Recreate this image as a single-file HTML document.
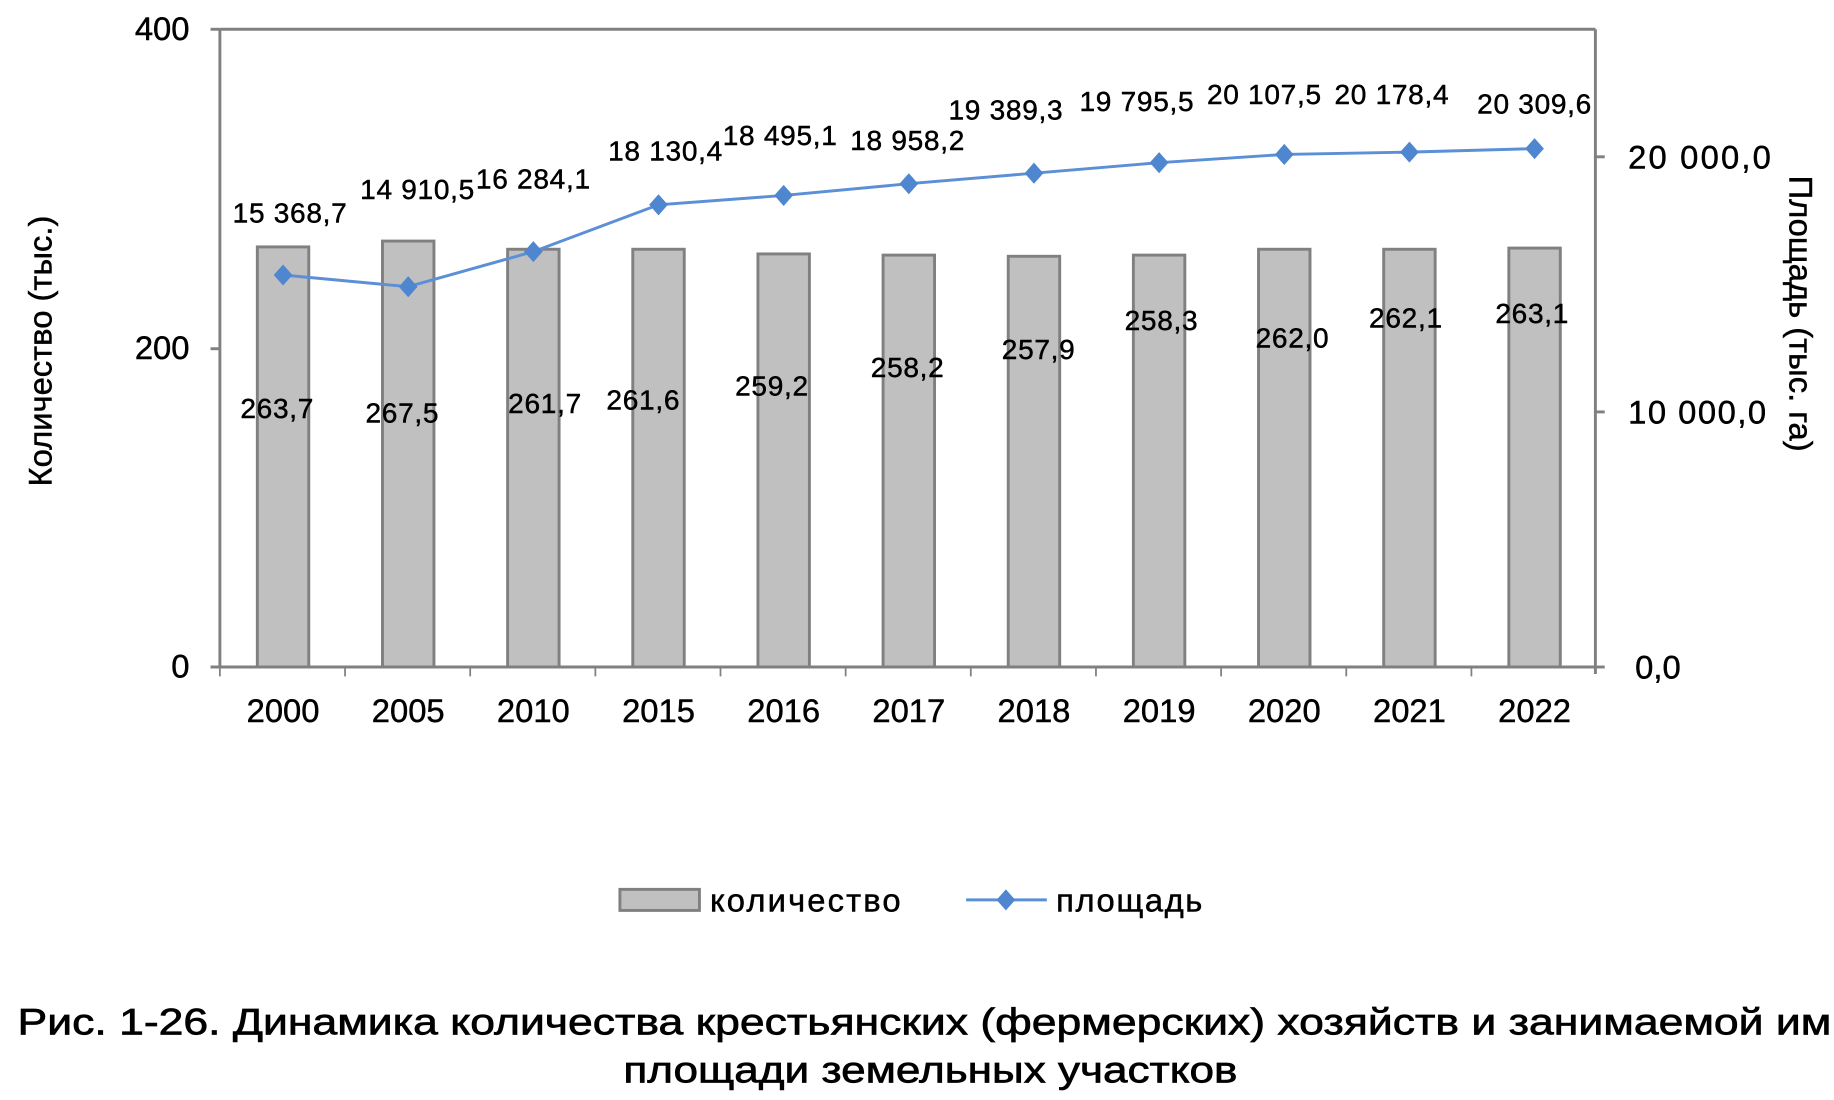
<!DOCTYPE html>
<html><head><meta charset="utf-8"><style>html,body{margin:0;padding:0;background:#fff}svg{display:block}</style></head>
<body>
<svg width="1834" height="1100" viewBox="0 0 1568 940" preserveAspectRatio="none" xmlns="http://www.w3.org/2000/svg" font-family="Liberation Sans, sans-serif">
<g fill="#c0c0c0" stroke="#808080" stroke-width="2.5">
<rect x="220" y="211" width="44" height="359"/>
<rect x="327" y="206" width="44" height="364"/>
<rect x="434" y="213" width="44" height="357"/>
<rect x="541" y="213" width="44" height="357"/>
<rect x="648" y="217" width="44" height="353"/>
<rect x="755" y="218" width="44" height="352"/>
<rect x="862" y="219" width="44" height="351"/>
<rect x="969" y="218" width="44" height="352"/>
<rect x="1076" y="213" width="44" height="357"/>
<rect x="1183" y="213" width="44" height="357"/>
<rect x="1290" y="212" width="44" height="358"/>
</g>
<g stroke="#808080" stroke-width="2.5" fill="none">
<line x1="188" y1="25" x2="1364" y2="25"/>
<line x1="188" y1="25" x2="188" y2="570"/>
<line x1="1364" y1="25" x2="1364" y2="576"/>
<line x1="180" y1="570" x2="1364" y2="570"/>
<line x1="180" y1="25" x2="188" y2="25"/>
<line x1="180" y1="298" x2="188" y2="298"/>
<line x1="1364" y1="134" x2="1372" y2="134"/>
<line x1="1364" y1="352" x2="1372" y2="352"/>
<line x1="1364" y1="570" x2="1372" y2="570"/>
<g stroke-width="1.5"><line x1="188" y1="570" x2="188" y2="578"/><line x1="295" y1="570" x2="295" y2="578"/><line x1="402" y1="570" x2="402" y2="578"/><line x1="509" y1="570" x2="509" y2="578"/><line x1="616" y1="570" x2="616" y2="578"/><line x1="723" y1="570" x2="723" y2="578"/><line x1="830" y1="570" x2="830" y2="578"/><line x1="937" y1="570" x2="937" y2="578"/><line x1="1044" y1="570" x2="1044" y2="578"/><line x1="1151" y1="570" x2="1151" y2="578"/><line x1="1258" y1="570" x2="1258" y2="578"/></g>
</g>
<polyline fill="none" stroke="#5b8fd6" stroke-width="2.5" points="242,235 349,245 456,215 563,175 670,167 777,157 884,148 991,139 1098,132 1205,130 1312,127"/>
<g fill="#4f86d0">
<path d="M242,226l8,9l-8,9l-8-9z"/><path d="M349,236l8,9l-8,9l-8-9z"/><path d="M456,206l8,9l-8,9l-8-9z"/><path d="M563,166l8,9l-8,9l-8-9z"/><path d="M670,158l8,9l-8,9l-8-9z"/><path d="M777,148l8,9l-8,9l-8-9z"/><path d="M884,139l8,9l-8,9l-8-9z"/><path d="M991,130l8,9l-8,9l-8-9z"/><path d="M1098,123l8,9l-8,9l-8-9z"/><path d="M1205,121l8,9l-8,9l-8-9z"/><path d="M1312,118l8,9l-8,9l-8-9z"/>
</g>
<g font-size="28" fill="#000" stroke="#000" stroke-width="0.4">
<text x="162" y="34" text-anchor="end">400</text>
<text x="162" y="307" text-anchor="end">200</text>
<text x="162" y="579" text-anchor="end">0</text>
<text x="1392" y="144" textLength="122">20 000,0</text>
<text x="1392" y="362" textLength="118">10 000,0</text>
<text x="1398" y="580">0,0</text>
<g text-anchor="middle"><text x="242" y="617">2000</text><text x="349" y="617">2005</text><text x="456" y="617">2010</text><text x="563" y="617">2015</text><text x="670" y="617">2016</text><text x="777" y="617">2017</text><text x="884" y="617">2018</text><text x="991" y="617">2019</text><text x="1098" y="617">2020</text><text x="1205" y="617">2021</text><text x="1312" y="617">2022</text></g>
<text transform="translate(44,300) rotate(-90)" text-anchor="middle">Количество (тыс.)</text>
<text transform="translate(1530,268) rotate(90)" text-anchor="middle">Площадь (тыс. га)</text>
<text x="607" y="779" textLength="163">количество</text>
<text x="903" y="779" textLength="125">площадь</text>
</g>
<g font-size="24" fill="#000" text-anchor="middle" stroke="#000" stroke-width="0.4" letter-spacing="0.6">
<text x="248" y="190">15 368,7</text><text x="357" y="170">14 910,5</text><text x="456" y="161">16 284,1</text><text x="569" y="137">18 130,4</text><text x="667" y="124">18 495,1</text><text x="776" y="128">18 958,2</text><text x="860" y="102">19 389,3</text><text x="972" y="95">19 795,5</text><text x="1081" y="89">20 107,5</text><text x="1190" y="89">20 178,4</text><text x="1312" y="97">20 309,6</text>
<text x="237" y="357">263,7</text><text x="344" y="361">267,5</text><text x="466" y="353">261,7</text><text x="550" y="350">261,6</text><text x="660" y="338">259,2</text><text x="776" y="322">258,2</text><text x="888" y="307">257,9</text><text x="993" y="282">258,3</text><text x="1105" y="297">262,0</text><text x="1202" y="280">262,1</text><text x="1310" y="276">263,1</text>
</g>
<rect x="530" y="760" width="68" height="18" fill="#c0c0c0" stroke="#808080" stroke-width="2.5"/>
<line x1="826" y1="769" x2="895" y2="769" stroke="#5b8fd6" stroke-width="2.5"/>
<path d="M860,760l8,9l-8,9l-8-9z" fill="#4f86d0"/>
<g font-size="32" fill="#000" stroke="#000" stroke-width="0.6">
<text x="15" y="884" textLength="1572" lengthAdjust="spacingAndGlyphs">Рис. 1-26. Динамика количества крестьянских (фермерских) хозяйств и занимаемой ими</text>
<text x="533" y="925" textLength="525" lengthAdjust="spacingAndGlyphs">площади земельных участков</text>
</g>
</svg>
</body></html>
